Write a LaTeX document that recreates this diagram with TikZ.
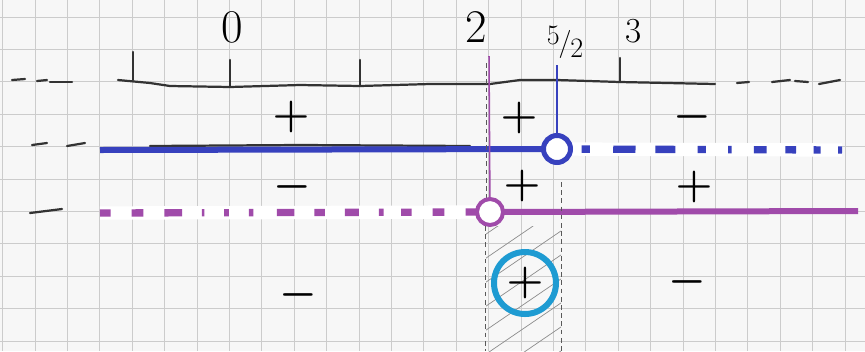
\RequirePackage{fix-cm}
\documentclass[tikz,border=0pt]{standalone}
\definecolor{penblue}{RGB}{55,65,190}
\definecolor{penpurple}{RGB}{160,75,170}
\definecolor{pencyan}{RGB}{30,155,210}
\begin{document}
\begin{tikzpicture}[x=0.03cm, y=-0.03cm,
    gridline/.style={color=black!20, line width=0.7pt},
    pencil/.style={color=black!80, line width=1.9pt, line cap=round},
    pencildash/.style={color=black!65, line width=0.8pt, dash pattern=on 4pt off 3pt},
    hatch/.style={color=black!45, line width=0.6pt},
    whiteout/.style={color=white, line width=0.4cm},
    opendot/.style={circle, fill=white, inner sep=0pt},
    sign/.style={inner sep=0pt, font=\fontsize{36}{36}\selectfont\boldmath},
    tag/.style={inner sep=0pt, font=\fontsize{40}{40}\selectfont}]
    \useasboundingbox (0,0) rectangle (865,351);
    \fill[color=black!3] (0,0) rectangle (865,351);
    % squared paper
    \foreach \k in {0,...,26}
        \draw[gridline] ({2.6+32.4*\k},0) -- ({2.6+32.4*\k},351);
    \foreach \k in {0,...,10}
        \draw[gridline] (0,{17+32.4*\k}) -- (865,{17+32.4*\k});
    % number line
    \draw[pencil] (12,80) -- (25,79);
    \draw[pencil] (37,81) -- (47,80);
    \draw[pencil] (50,82) -- (72,82);
    \draw[pencil] (118,80) -- (150,83) -- (170,86) -- (230,87) -- (300,85) -- (360,86) -- (430,84) -- (490,84) -- (520,80) -- (557,80) -- (620,82) -- (715,84);
    \draw[pencil] (737,83) -- (749,82);
    \draw[pencil] (772,82) -- (790,80);
    \draw[pencil] (795,81) -- (808,82);
    \draw[pencil] (819,84) -- (840,80);
    \draw[pencil] (133,52) -- (133,80);
    \draw[pencil] (230,60) -- (230,87);
    \draw[pencil] (360,60) -- (360,86);
    \draw[pencil] (620,58) -- (620,82);
    \node[tag] (lblzero) at (232,27) {0};
    \node[tag] (lbltwo) at (476,27) {2};
    \node[inner sep=0pt, font=\fontsize{24}{24}\selectfont] (lblfive) at (565,42) {\raisebox{5.5pt}{5}\kern-1pt/\kern-1pt\raisebox{-5.5pt}{2}};
    \node[inner sep=0pt, font=\fontsize{30}{30}\selectfont] (lblthree) at (634,31) {3};
    % first factor
    \coordinate (bluestart) at (100,150);
    \coordinate (bluemark) at (557,149);
    \coordinate (blueend) at (842,150);
    \coordinate (bluetop) at (557,65);
    \draw[pencil] (32,145) -- (47,143);
    \draw[pencil] (67,146) -- (85,143);
    \draw[pencil] (150,146) -- (300,145) -- (470,146);
    \draw[color=penblue, line width=0.18cm] (bluestart) -- (bluemark);
    \draw[whiteout] (bluemark) -- (blueend);
    \draw[color=penblue, line width=0.22cm, dash pattern=on 6pt off 15pt on 7pt off 20pt on 19pt off 17pt on 17pt off 19pt on 7pt off 19pt on 3pt off 19pt on 11pt off 16pt on 9pt off 15pt] (bluemark) -- (blueend);
    \draw[color=penblue, line width=1.3pt] (bluetop) -- (bluemark);
    \node[opendot, draw=penblue, line width=0.15cm, minimum size=0.81cm] (bluedot) at (bluemark) {};
    % second factor
    \coordinate (purplestart) at (100,213);
    \coordinate (purplemark) at (490,212);
    \coordinate (purpleend) at (858,211);
    \coordinate (purpletop) at (489,56);
    \draw[pencil] (30,213) -- (62,209);
    \draw[pencildash] (486,63) -- (486,200);
    \draw[whiteout] (purplestart) -- (purplemark);
    \draw[color=penpurple, line width=0.22cm, dash pattern=on 9pt off 18pt on 10pt off 18pt on 15pt off 17pt on 2pt off 17pt on 4pt off 17pt on 4pt off 20pt on 15pt off 17pt on 9pt off 17pt on 12pt off 17pt on 4pt off 15pt] (purplestart) -- (purplemark);
    \draw[color=penpurple, line width=0.18cm] (purplemark) -- (purpleend);
    \draw[color=penpurple, line width=1.3pt] (purpletop) -- (purplemark);
    \node[opendot, draw=penpurple, line width=0.12cm, minimum size=0.78cm] (purpledot) at (purplemark) {};
    % solution strip
    \begin{scope}
        \clip (486,226) rectangle (561,351);
        \foreach \k in {0,...,7}
            \draw[hatch] (470,{245+24*\k}) -- (580,{245+24*\k-75});
    \end{scope}
    \draw[pencildash] (485,226) -- (485,351);
    \draw[pencildash] (561,182) -- (561,351);
    % signs
    \node[sign] (signa) at (291,117) {$+$};
    \node[sign] (signb) at (519,118) {$+$};
    \node[sign] (signc) at (692,117) {$-$};
    \node[sign] (signd) at (292,187) {$-$};
    \node[sign] (signe) at (522,186) {$+$};
    \node[sign] (signf) at (694,187) {$+$};
    \node[sign] (signg) at (298,295) {$-$};
    \node[sign, circle, draw=pencyan, line width=0.18cm, minimum size=1.86cm] (signh) at (525,283) {$+$};
    \node[sign] (signi) at (687,282) {$-$};
\end{tikzpicture}
\end{document}
